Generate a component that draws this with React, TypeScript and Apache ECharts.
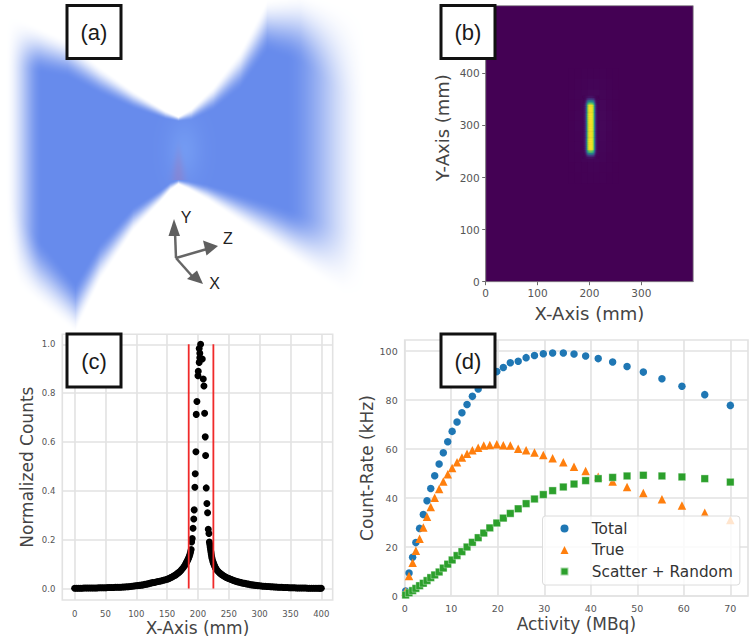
import React, { useEffect, useRef } from "react";
import * as echarts from "echarts";

const WIDTH = 749;
const HEIGHT = 639;

// Panel (b): detector image, 2 mm columns and 4 mm rows over the rod
const heatColumnStarts = [186, 188, 190, 192, 194, 196, 198, 200, 202, 204, 206, 208, 210, 212, 214, 216];
const heatRowStarts = [237, 241, 245, 249, 253, 257, 261, 265, 269, 273, 277, 281, 285, 289, 293, 297, 301, 305, 309, 313, 317, 321, 325, 329, 333, 337, 341, 345, 349, 353];
const rodCore = [0.01, 0.03, 0.07, 0.2, 0.5, 0.85, 0.98, 1, 1, 0.98, 0.9, 0.6, 0.25, 0.08, 0.03, 0.01];
const rodEdge1 = [0.01, 0.02, 0.05, 0.15, 0.38, 0.64, 0.74, 0.78, 0.78, 0.74, 0.68, 0.45, 0.19, 0.06, 0.02, 0.01];
const rodEdge2 = [0.01, 0.01, 0.03, 0.09, 0.23, 0.4, 0.46, 0.48, 0.48, 0.46, 0.42, 0.28, 0.12, 0.04, 0.02, 0.01];
const rodEdge3 = [0.01, 0.01, 0.02, 0.04, 0.1, 0.16, 0.19, 0.2, 0.2, 0.19, 0.17, 0.12, 0.05, 0.02, 0.01, 0.01];
const rodEdge4 = [0, 0.01, 0.01, 0.02, 0.03, 0.04, 0.05, 0.05, 0.05, 0.05, 0.04, 0.03, 0.02, 0.01, 0.01, 0];
const heatRows = [
  rodEdge4, rodEdge3, rodEdge2, rodEdge1,
  rodCore, rodCore, rodCore, rodCore, rodCore, rodCore, rodCore, rodCore, rodCore, rodCore, rodCore,
  rodCore, rodCore, rodCore, rodCore, rodCore, rodCore, rodCore, rodCore, rodCore, rodCore, rodCore,
  rodEdge1, rodEdge2, rodEdge3, rodEdge4,
];
const haloColumnStarts = [160, 172, 184, 196, 208, 220, 232, 244];
const haloRowStarts = [190, 210, 230, 250, 270, 290, 310, 330, 350, 370, 390];
const haloRows = [
  [0, 0, 0.002, 0.003, 0.003, 0.002, 0, 0],
  [0, 0.002, 0.004, 0.006, 0.006, 0.004, 0.002, 0],
  [0.002, 0.004, 0.008, 0.012, 0.012, 0.008, 0.004, 0.002],
  [0.002, 0.006, 0.012, 0.018, 0.018, 0.012, 0.006, 0.002],
  [0.003, 0.007, 0.014, 0.022, 0.022, 0.014, 0.007, 0.003],
  [0.003, 0.008, 0.015, 0.024, 0.024, 0.016, 0.008, 0.003],
  [0.003, 0.008, 0.015, 0.024, 0.024, 0.016, 0.008, 0.003],
  [0.003, 0.007, 0.014, 0.022, 0.022, 0.014, 0.007, 0.003],
  [0.002, 0.005, 0.01, 0.016, 0.016, 0.01, 0.005, 0.002],
  [0.001, 0.003, 0.006, 0.009, 0.009, 0.006, 0.003, 0.001],
  [0, 0.001, 0.003, 0.004, 0.004, 0.003, 0.001, 0],
];
const viridis = ["#440154", "#482878", "#3e4989", "#31688e", "#26828e", "#1f9e89", "#35b779", "#6ece58", "#b5de2b", "#fde725"];
const bTicksX = [0, 100, 200, 300];
const bTicksY = [0, 100, 200, 300, 400];

// Panel (c): normalized profile
const profileX = [
  0, 3, 6, 9, 12, 15, 18, 21, 24, 27, 30, 33, 36, 39, 42, 45, 48, 51, 54, 57, 60, 63, 66, 69, 72, 75, 78, 81, 84, 87, 90, 93, 96, 99,
  102, 105, 108, 111, 114, 117, 120, 123, 126, 129, 132, 135, 138, 141, 144, 147, 150, 152, 154, 156, 158, 160, 162, 164, 166, 168, 170, 172, 174,
  176, 178, 180, 181, 182, 183, 184, 185, 186, 187, 188, 189, 189.7, 190.7, 192, 193.2, 193.9, 195, 195.6, 196.7,
  197.2, 198.3, 200, 200.5, 202, 203, 203, 202, 204.3, 207, 208.6, 209.7, 210.8, 211.8, 212.4, 213.4,
  214.5, 215.6, 216.7, 217.8, 218.5, 219.2, 219.8, 220.4, 221, 221.6, 222.2, 223, 224, 225, 226, 227, 228, 229, 230, 232, 234, 236, 238,
  240, 242, 244, 246, 248, 250, 252, 254, 256, 258, 260, 262, 264, 266, 268, 270, 273, 276, 279, 282, 285, 288, 291, 294, 297, 300,
  303, 306, 309, 312, 315, 318, 321, 324, 327, 330, 333, 336, 339, 342, 345, 348, 351, 354, 357, 360, 363, 366, 369, 372, 375, 378, 381, 384, 387, 390, 393, 396, 398, 400,
];
const profileY = [
  0.001, 0.001, 0.001, 0.001, 0.001, 0.002, 0.002, 0.002, 0.002, 0.002, 0.002, 0.002, 0.002, 0.003, 0.003, 0.003, 0.003, 0.003, 0.004, 0.004, 0.004, 0.004, 0.005, 0.005, 0.005, 0.005, 0.006, 0.006, 0.007, 0.007, 0.008, 0.009, 0.01, 0.011,
  0.012, 0.013, 0.014, 0.015, 0.017, 0.018, 0.02, 0.022, 0.024, 0.025, 0.027, 0.029, 0.03, 0.032, 0.034, 0.036, 0.038, 0.04, 0.042, 0.045, 0.047, 0.05, 0.053, 0.056, 0.06, 0.064, 0.068, 0.073, 0.079,
  0.085, 0.092, 0.1, 0.105, 0.11, 0.115, 0.12, 0.126, 0.132, 0.14, 0.15, 0.16, 0.191, 0.205, 0.247, 0.285, 0.322, 0.415, 0.47, 0.56,
  0.713, 0.766, 0.871, 0.89, 0.926, 0.945, 0.963, 0.983, 1, 0.94, 0.858, 0.829, 0.718, 0.621, 0.545, 0.412,
  0.348, 0.31, 0.243, 0.225, 0.19, 0.18, 0.17, 0.16, 0.15, 0.14, 0.13, 0.122, 0.112, 0.105, 0.098, 0.092, 0.086, 0.082, 0.078, 0.072, 0.067, 0.062, 0.058,
  0.054, 0.051, 0.048, 0.045, 0.043, 0.041, 0.039, 0.037, 0.035, 0.033, 0.031, 0.03, 0.028, 0.027, 0.026, 0.024, 0.022, 0.021, 0.019, 0.018, 0.016, 0.015, 0.014, 0.013, 0.012, 0.011,
  0.01, 0.009, 0.009, 0.008, 0.008, 0.007, 0.007, 0.006, 0.006, 0.005, 0.005, 0.005, 0.004, 0.004, 0.004, 0.003, 0.003, 0.003, 0.003, 0.002, 0.002, 0.002, 0.002, 0.002, 0.002, 0.001, 0.001, 0.001, 0.001, 0.001, 0.001, 0.001, 0.001, 0.001,
];
const fwhmLines = [185, 225];
const cTicksX = [0, 50, 100, 150, 200, 250, 300, 350, 400];
const cTicksY = [0, 0.2, 0.4, 0.6, 0.8, 1];

// Panel (d): count rates
const activity = [0.2, 0.93, 1.7, 2.4, 3.2, 4, 4.8, 5.6, 6.45, 7.4, 8.3, 9.25, 10.2, 11.25, 12.3, 13.4, 14.55, 15.8, 17, 18.3, 19.8, 21.2, 22.7, 24.4, 26.1, 27.9, 29.8, 31.8, 34.1, 36.4, 38.9, 41.6, 44.7, 47.8, 51.3, 55.3, 59.6, 64.5, 70];
const totalRate = [2, 9.4, 15.8, 21.8, 27.6, 33.3, 38.9, 43.9, 49.1, 53.9, 58.5, 63, 67.2, 71, 74.8, 78.2, 81.5, 84.5, 87, 89.3, 91.6, 93.3, 95.2, 95.8, 97.3, 98.2, 98.9, 99.2, 99.2, 98.8, 98, 96.9, 95.5, 93.7, 91.4, 88.7, 85.6, 82.2, 77.8];
const trueRate = [1.8, 8.2, 13.6, 18.5, 23.4, 28, 32.4, 36.3, 40.1, 43.7, 46.7, 49.7, 52.2, 54.6, 56.5, 58.1, 59.5, 60.5, 61.4, 61.6, 61.9, 61.5, 61.4, 60.1, 59.5, 58.6, 57.6, 56.2, 54.6, 52.8, 51, 48.7, 46.7, 44.5, 42, 39.5, 36.9, 34, 31];
const scatterRandomRate = [0.4, 1.3, 2.2, 3.1, 4.2, 5.2, 6.3, 7.5, 8.6, 9.8, 11.4, 13, 14.7, 16.5, 18.1, 20, 21.9, 23.8, 25.7, 27.8, 29.8, 31.8, 33.7, 35.6, 37.7, 39.6, 41.4, 43, 44.5, 45.7, 47.1, 47.9, 48.4, 49, 49.3, 49, 48.6, 47.9, 46.5];
const dTicksX = [0, 10, 20, 30, 40, 50, 60, 70];
const dTicksY = [0, 20, 40, 60, 80, 100];

const panelLabels = ["(a)", "(b)", "(c)", "(d)"];
const triadLabels = ["X", "Y", "Z"];

const PLOT_FONT = "DejaVu Sans";
const ARIAL = "Liberation Sans";
const GRID_COLOR = "#e2e2e2";
const TICK_COLOR = "#555555";
const TITLE_COLOR = "#444444";

function zip(xs: number[], ys: number[]) {
  return xs.map((x, i) => [x, ys[i]]);
}

function matrixToCells(cols: number[], rows: number[], values: number[][]) {
  const out: number[][] = [];
  rows.forEach((y, j) => cols.forEach((x, i) => out.push([x, y, values[j][i]])));
  return out;
}

function cellRenderer(w: number, h: number) {
  return (_p: any, api: any) => {
    const x = api.value(0);
    const y = api.value(1);
    const p = api.coord([x, y + h]);
    const s = api.size([w, h]);
    return {
      type: "rect",
      shape: { x: p[0], y: p[1], width: s[0] + 0.4, height: s[1] + 0.4 },
      style: { fill: api.visual("color") },
    };
  };
}

// Outline of the blurred volume rendering of panel (a), in page pixels
const topEdge = [[0, 10], [10, 15], [67, 41], [100, 68], [133, 92], [165, 112], [178, 118], [191, 110], [213, 88], [240, 52], [267, 0], [300, -6], [365, 10], [380, 14]];
const bottomEdge = [[0, 250], [8, 262], [20, 288], [75, 331], [100, 279], [133, 229], [160, 200], [170, 188], [178, 182], [188, 187], [207, 198], [267, 239], [343, 294], [380, 304]];

function piecewise(table: number[][], x: number) {
  for (let i = 1; i < table.length; i++) {
    if (x <= table[i][0]) {
      const t = (x - table[i - 1][0]) / (table[i][0] - table[i - 1][0]);
      return table[i - 1][1] + t * (table[i][1] - table[i - 1][1]);
    }
  }
  return table[table.length - 1][1];
}

function smooth(e0: number, e1: number, v: number) {
  const t = Math.min(1, Math.max(0, (v - e0) / (e1 - e0)));
  return t * t * (3 - 2 * t);
}

function paintVolume(): string {
  const W = 372;
  const H = 336;
  const c = document.createElement("canvas");
  c.width = W;
  c.height = H;
  const ctx = c.getContext("2d") as CanvasRenderingContext2D;
  const img = ctx.createImageData(W, H);
  for (let y = 0; y < H; y++) {
    for (let x = 0; x < W; x++) {
      const dx = x - 178;
      const top = piecewise(topEdge, x);
      const bottom = piecewise(bottomEdge, x);
      const softTop = 3 + Math.abs(dx) * (dx < 0 ? 0.3 : 0.55);
      const softBottom = 3 + Math.abs(dx) * (dx < 0 ? 0.45 : 0.4);
      const vTop = smooth(-2, softTop, y - top);
      const vBottom = smooth(-2, softBottom, bottom - y);
      const hLeft = smooth(5, 42, x);
      const hRight = 1 - smooth(285, 368, x);
      const a = vTop * vBottom * hLeft * hRight;
      // lighter glow around the source and a faint reddish trace in it
      const glow = Math.exp(-(dx - 6) * (dx - 6) / 300 - (y - 150) * (y - 150) / 900);
      let r = 103 + 12 * glow;
      let g = 139 + 15 * glow;
      let b = 236 + 6 * glow;
      if (y > 135 && y < 180) {
        const width = 1 + (y - 135) * 0.09;
        const trace = Math.exp(-(x - 178) * (x - 178) / (2 * width * width)) * smooth(135, 175, y) * 0.38;
        r += (165 - r) * trace;
        g += (120 - g) * trace;
        b += (180 - b) * trace;
      }
      const i = (y * W + x) * 4;
      img.data[i] = r;
      img.data[i + 1] = g;
      img.data[i + 2] = b;
      img.data[i + 3] = a * 255;
    }
  }
  ctx.putImageData(img, 0, 0);
  return c.toDataURL("image/png");
}

function labelBox(text: string, x: number, y: number) {
  return [
    { type: "rect", z: 100, x, y, shape: { x: 0, y: 0, width: 54, height: 53 }, style: { fill: "#ffffff", stroke: "#111111", lineWidth: 3 } },
    {
      type: "text",
      z: 101,
      x,
      y,
      style: { x: 27, y: 27, text, font: `22px "${ARIAL}"`, fill: "#1a1a1a", align: "center", verticalAlign: "middle" },
    },
  ];
}

function arrow(x0: number, y0: number, x1: number, y1: number, tip: number[], b1: number[], b2: number[]) {
  return [
    { type: "line", z: 5, shape: { x1: x0, y1: y0, x2: x1, y2: y1 }, style: { stroke: "#666666", lineWidth: 2.5 } },
    { type: "polygon", z: 5, shape: { points: [tip, b1, b2] }, style: { fill: "#5f5f5f" } },
  ];
}

function triadText(text: string, x: number, y: number) {
  return {
    type: "text",
    z: 5,
    style: { x, y, text, font: `16px "${ARIAL}"`, fill: "#222222", align: "center", verticalAlign: "middle" },
  };
}

function seabornAxes(ticksX: number[], ticksY: number[], gridIndex: number, fontSize: number, xName: string, yName: string, range: { xMin: number; xMax: number; yMin: number; yMax: number }, nameSize: number, xGap: number, yGap: number, xMargin: number) {
  const common = {
    gridIndex,
    type: "value" as const,
    axisLine: { show: false },
    splitLine: { show: true, lineStyle: { color: GRID_COLOR, width: 1.6 } },
    nameLocation: "middle" as const,
    nameTextStyle: { fontFamily: PLOT_FONT, fontSize: nameSize, color: TITLE_COLOR },
  };
  const labels = { color: TICK_COLOR, fontFamily: PLOT_FONT, fontSize };
  return {
    x: {
      ...common,
      min: range.xMin,
      max: range.xMax,
      name: xName,
      nameGap: xGap,
      axisTick: { show: false, customValues: ticksX },
      axisLabel: { ...labels, margin: xMargin, customValues: ticksX },
    },
    y: {
      ...common,
      min: range.yMin,
      max: range.yMax,
      name: yName,
      nameGap: yGap,
      axisTick: { show: false, customValues: ticksY },
      axisLabel: { ...labels, margin: 7, customValues: ticksY, formatter: (v: number) => (gridIndex === 1 ? v.toFixed(1) : String(v)) },
    },
  };
}

const CIRCLE_ICON = "path://M4,0A4,4 0 1,1 4,8A4,4 0 1,1 4,0Z";
const TRIANGLE_ICON = "path://M4,0L8,8L0,8Z";
const SQUARE_ICON = "path://M0,0H8V8H0Z";

export default function App() {
  const ref = useRef<HTMLDivElement>(null);
  useEffect(() => {
    if (!ref.current) return;
    const chart = echarts.init(ref.current, undefined, { renderer: "svg" });
    const c = seabornAxes(cTicksX, cTicksY, 1, 8.5, "X-Axis (mm)", "Normalized Counts", { xMin: -20, xMax: 418.5, yMin: -0.047, yMax: 1.041 }, 17, 19, 27, 9);
    const d = seabornAxes(dTicksX, dTicksY, 2, 9.5, "Activity (MBq)", "Count-Rate (kHz)", { xMin: 0, xMax: 73.8, yMin: 0, yMax: 104.5 }, 17, 19, 24, 7);
    const bLabel = { color: TICK_COLOR, fontFamily: PLOT_FONT, fontSize: 10.5, margin: 6 };
    const bTick = { show: true, length: 3.5, lineStyle: { color: "#444444", width: 0.8 } };
    const option: any = {
      animation: false,
      backgroundColor: "#ffffff",
      grid: [
        { left: 485.7, top: 5.7, width: 207.5, height: 276, show: true, backgroundColor: "#440154", borderColor: "#8a8a8a", borderWidth: 0.8, z: 1 },
        { left: 62.3, top: 334.3, width: 270.4, height: 265.7, show: true, backgroundColor: "#ffffff", borderColor: GRID_COLOR, borderWidth: 1.6 },
        { left: 404.7, top: 340, width: 343.3, height: 256, show: true, backgroundColor: "#ffffff", borderColor: GRID_COLOR, borderWidth: 1.6 },
      ],
      xAxis: [
        {
          gridIndex: 0, type: "value", min: 0, max: 400,
          name: "X-Axis (mm)", nameLocation: "middle", nameGap: 23,
          nameTextStyle: { fontFamily: PLOT_FONT, fontSize: 18, color: TITLE_COLOR },
          splitLine: { show: false },
          axisLine: { show: true, onZero: false, lineStyle: { color: "#8a8a8a", width: 0.8 } },
          axisTick: { ...bTick, customValues: bTicksX },
          axisLabel: { ...bLabel, customValues: bTicksX },
        },
        c.x,
        d.x,
      ],
      yAxis: [
        {
          gridIndex: 0, type: "value", min: 0, max: 530,
          name: "Y-Axis (mm)", nameLocation: "middle", nameGap: 34,
          nameTextStyle: { fontFamily: PLOT_FONT, fontSize: 18, color: TITLE_COLOR, padding: [0, 0, 0, 32] },
          splitLine: { show: false },
          axisLine: { show: true, onZero: false, lineStyle: { color: "#8a8a8a", width: 0.8 } },
          axisTick: { ...bTick, customValues: bTicksY },
          axisLabel: { ...bLabel, customValues: bTicksY },
        },
        c.y,
        d.y,
      ],
      visualMap: {
        show: false,
        type: "continuous",
        seriesIndex: [0, 1],
        dimension: 2,
        min: 0,
        max: 1,
        inRange: { color: viridis },
      },
      legend: {
        left: 542.5,
        top: 516,
        orient: "vertical",
        itemWidth: 44.6,
        itemHeight: 8,
        itemGap: 6.5,
        padding: [5, 7, 6, 17],
        selectedMode: false,
        backgroundColor: "rgba(255,255,255,0.8)",
        borderColor: "#dcdcdc",
        borderWidth: 1,
        borderRadius: 3,
        textStyle: { fontFamily: PLOT_FONT, fontSize: 15.3, color: "#333333" },
        data: [
          { name: "Total", icon: CIRCLE_ICON, itemStyle: { color: "#1f77b4" } },
          { name: "True", icon: TRIANGLE_ICON, itemStyle: { color: "#ff7f0e" } },
          { name: "Scatter + Random", icon: SQUARE_ICON, itemStyle: { color: "#2ca02c" } },
        ],
      },
      series: [
        {
          type: "custom", xAxisIndex: 0, yAxisIndex: 0, coordinateSystem: "cartesian2d", clip: true,
          renderItem: cellRenderer(12, 20),
          encode: { x: 0, y: 1 },
          data: matrixToCells(haloColumnStarts, haloRowStarts, haloRows),
          silent: true,
        },
        {
          type: "custom", xAxisIndex: 0, yAxisIndex: 0, coordinateSystem: "cartesian2d", clip: true,
          renderItem: cellRenderer(2, 4),
          encode: { x: 0, y: 1 },
          data: matrixToCells(heatColumnStarts, heatRowStarts, heatRows),
          silent: true,
        },
        {
          type: "scatter", xAxisIndex: 1, yAxisIndex: 1, symbol: "circle", symbolSize: 7,
          itemStyle: { color: "#000000", opacity: 1 },
          data: zip(profileX, profileY),
          z: 3,
        },
        ...fwhmLines.map((x) => ({
          type: "line", xAxisIndex: 1, yAxisIndex: 1, showSymbol: false, symbol: "none",
          lineStyle: { color: "#f02a2a", width: 1.8 },
          data: [[x, 0], [x, 1]],
          z: 4,
        })),
        {
          name: "Total", type: "scatter", xAxisIndex: 2, yAxisIndex: 2, symbol: "circle", symbolSize: 7.5,
          itemStyle: { color: "#1f77b4", opacity: 1 },
          data: zip(activity, totalRate), z: 3,
        },
        {
          name: "True", type: "scatter", xAxisIndex: 2, yAxisIndex: 2, symbol: "triangle", symbolSize: 8.5,
          itemStyle: { color: "#ff7f0e", opacity: 1 },
          data: zip(activity, trueRate), z: 3,
        },
        {
          name: "Scatter + Random", type: "scatter", xAxisIndex: 2, yAxisIndex: 2, symbol: "rect", symbolSize: 7.5,
          itemStyle: { color: "#2ca02c", opacity: 1, borderColor: "rgba(255,255,255,0.6)", borderWidth: 0.6 },
          data: zip(activity, scatterRandomRate), z: 3,
        },
      ],
      graphic: [
        { type: "image", z: -1, x: 0, y: 0, style: { image: paintVolume(), x: 0, y: 0, width: 372, height: 336 } },
        ...arrow(176, 258, 175, 232, [174, 219], [168.5, 236], [180, 236]),
        ...arrow(176, 258, 207, 249, [218, 246], [203, 240.5], [206.5, 255.5]),
        ...arrow(176, 258, 192, 276, [203, 284], [187, 279], [197, 270.5]),
        triadText(triadLabels[0], 214.5, 283),
        triadText(triadLabels[1], 186, 217),
        triadText(triadLabels[2], 228, 238),
        ...labelBox(panelLabels[0], 67, 5.5),
        ...labelBox(panelLabels[1], 441, 5.5),
        ...labelBox(panelLabels[2], 67, 334),
        ...labelBox(panelLabels[3], 441, 334),
      ],
    };
    chart.setOption(option);
    return () => chart.dispose();
  }, []);
  return <div ref={ref} style={{ position: "fixed", left: 0, top: 0, width: WIDTH, height: HEIGHT }} />;
}
